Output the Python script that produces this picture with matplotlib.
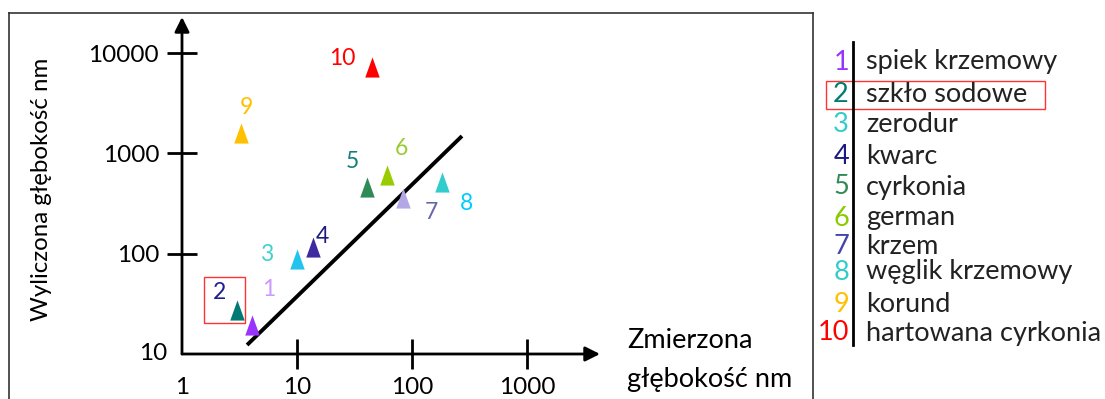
import numpy as np
import matplotlib
matplotlib.use('Agg')
from matplotlib import pyplot as plt
from matplotlib.patches import Rectangle
from matplotlib.lines import Line2D

########
# Data #
########

numbers = ['1', '2', '3', '4', '5', '6', '7', '8', '9', '10']
materials = ['spiek krzemowy', 'szkło sodowe', 'zerodur', 'kwarc', 'cyrkonia',
             'german', 'krzem', 'węglik krzemowy', 'korund', 'hartowana cyrkonia']
measured = [4.1, 3.0, 10.0, 13.8, 40.6, 60.6, 83.5, 182.0, 3.26, 44.5]      # Zmierzona głębokość nm
calculated = [19.5, 27.5, 89.0, 117.0, 462.0, 610.0, 359.0, 519.0, 1590.0, 7200.0]  # Wyliczona
label_x = [5.7, 2.1, 5.4, 16.5, 30.6, 81.7, 146.0, 296.0, 3.6, 24.6]
label_y = [43.5, 40.6, 99.0, 147.0, 822.0, 1130.0, 260.0, 320.0, 2900.0, 8900.0]
fit_x = [3.68, 272.0]
fit_y = [12.3, 1490.0]
x_ticks = [1, 10, 100, 1000]
y_ticks = [100, 1000, 10000]

marker_colors = ['#9933FF', '#007A73', '#22C4EE', '#3D2B9F', '#2E8B57',
                 '#99CC00', '#B4A7E5', '#33CCCC', '#FFC000', '#FF0000']
label_colors = ['#CC99FF', '#1F1F8F', '#44D0D0', '#1A1A80', '#138080',
                '#99CC33', '#6666AA', '#00CCFF', '#FFC000', '#FF0000']
legend_colors = ['#9933FF', '#007A73', '#33CCCC', '#1A1A80', '#2E8B57',
                 '#88CC00', '#4444AA', '#33CCCC', '#FFC000', '#FF0000']

##################
# Figure & Fonts #
##################

W, H = 1105, 399
plt.rcParams['font.family'] = ['Lato', 'DejaVu Sans']
tick_fs = 17.5   # tick labels
num_fs = 16.5    # point numbers
title_fs = 17.3  # y-axis title
big_fs = 19.5    # x-axis title and legend

fig = plt.figure(figsize=(W / 100, H / 100), dpi=100)


def px(x, y):
    # pixel position -> figure fraction
    return x / W, 1 - y / H


# axes spans y-axis (x=182) to arrow tip (x=600), arrow tip (y=17) to x-axis (y=354)
l, b = px(182, 354)
r, t = px(600, 17)
ax = fig.add_axes([l, b, r - l, t - b])
ax.set_xscale('log')
ax.set_yscale('log')
ax.set_xlim(1, 10 ** ((600 - 182) / 115))
ax.set_ylim(10, 10 ** (1 + (354 - 17) / 100.3))
ax.patch.set_visible(False)
for s in ax.spines.values():
    s.set_visible(False)
ax.minorticks_off()

# axes with arrows
arrow = dict(arrowstyle='-|>', lw=2, color='black', mutation_scale=22, shrinkA=0, shrinkB=0)
ax.annotate('', xy=(0, 1), xytext=(0, 0), xycoords='axes fraction',
            textcoords='axes fraction', arrowprops=dict(arrow))
ax.annotate('', xy=(1, 0), xytext=(0, 0), xycoords='axes fraction',
            textcoords='axes fraction', arrowprops=dict(arrow))

ax.set_xticks(x_ticks, [str(v) for v in x_ticks])
ax.set_yticks(y_ticks, [str(v) for v in y_ticks])
ax.tick_params(direction='inout', length=21, width=2, labelsize=tick_fs, pad=6)
ax.xaxis.get_major_ticks()[0].tick1line.set_visible(False)
ax.text(0.74, 10, '10', ha='right', va='center', fontsize=tick_fs, clip_on=False)

# fitted line
ax.plot(fit_x, fit_y, color='black', lw=2.8, solid_capstyle='butt', clip_on=False)

# points and labels (slightly narrow triangle like the original)
tri = [(-0.72, -1), (0.72, -1), (0, 1), (-0.72, -1)]
for i in range(len(numbers)):
    ax.scatter(measured[i], calculated[i], marker=tri, s=210, color=marker_colors[i],
               linewidths=0, zorder=3, clip_on=False)
    ax.text(label_x[i], label_y[i], numbers[i], color=label_colors[i], fontsize=num_fs,
            ha='center', va='center', clip_on=False)

ax.add_patch(Rectangle((1.54, 20.4), 3.54 - 1.54, 58.5 - 20.4, fill=False,
                       edgecolor='#FF3333', lw=1, clip_on=False))

# axis titles
fig.text(*px(42, 189), 'Wyliczona głębokość nm', rotation=90, ha='center', va='center',
         fontsize=title_fs)
fig.text(*px(627, 340), 'Zmierzona', ha='left', va='center', fontsize=big_fs)
fig.text(*px(627, 380), 'głębokość nm', ha='left', va='center', fontsize=big_fs)

# outer frame
frame_kw = dict(color='#333333', lw=1.2)
fig.add_artist(Line2D([9 / W, 813 / W], [1 - 13 / H] * 2, **frame_kw))
fig.add_artist(Line2D([9 / W] * 2, [1 - 13 / H, 0], **frame_kw))
fig.add_artist(Line2D([813 / W] * 2, [1 - 13 / H, 0], **frame_kw))

##########
# Legend #
##########

row_y = [62, 94, 125, 156, 187, 218, 247, 272, 304, 333]
fig.add_artist(Line2D([853 / W] * 2, [1 - 42 / H, 1 - 345 / H], color='black', lw=2))
for i in range(len(numbers)):
    fig.text(*px(849, row_y[i]), numbers[i], color=legend_colors[i], ha='right',
             va='center', fontsize=big_fs)
    fig.text(*px(866, row_y[i]), materials[i], color='#222222', ha='left',
             va='center', fontsize=big_fs)
x0, y0 = px(826, 109)
x1, y1 = px(1045, 81)
fig.add_artist(Rectangle((x0, y0), x1 - x0, y1 - y0, fill=False,
                         edgecolor='#FF3333', lw=1, transform=fig.transFigure))

plt.savefig('out.png', dpi=100)
